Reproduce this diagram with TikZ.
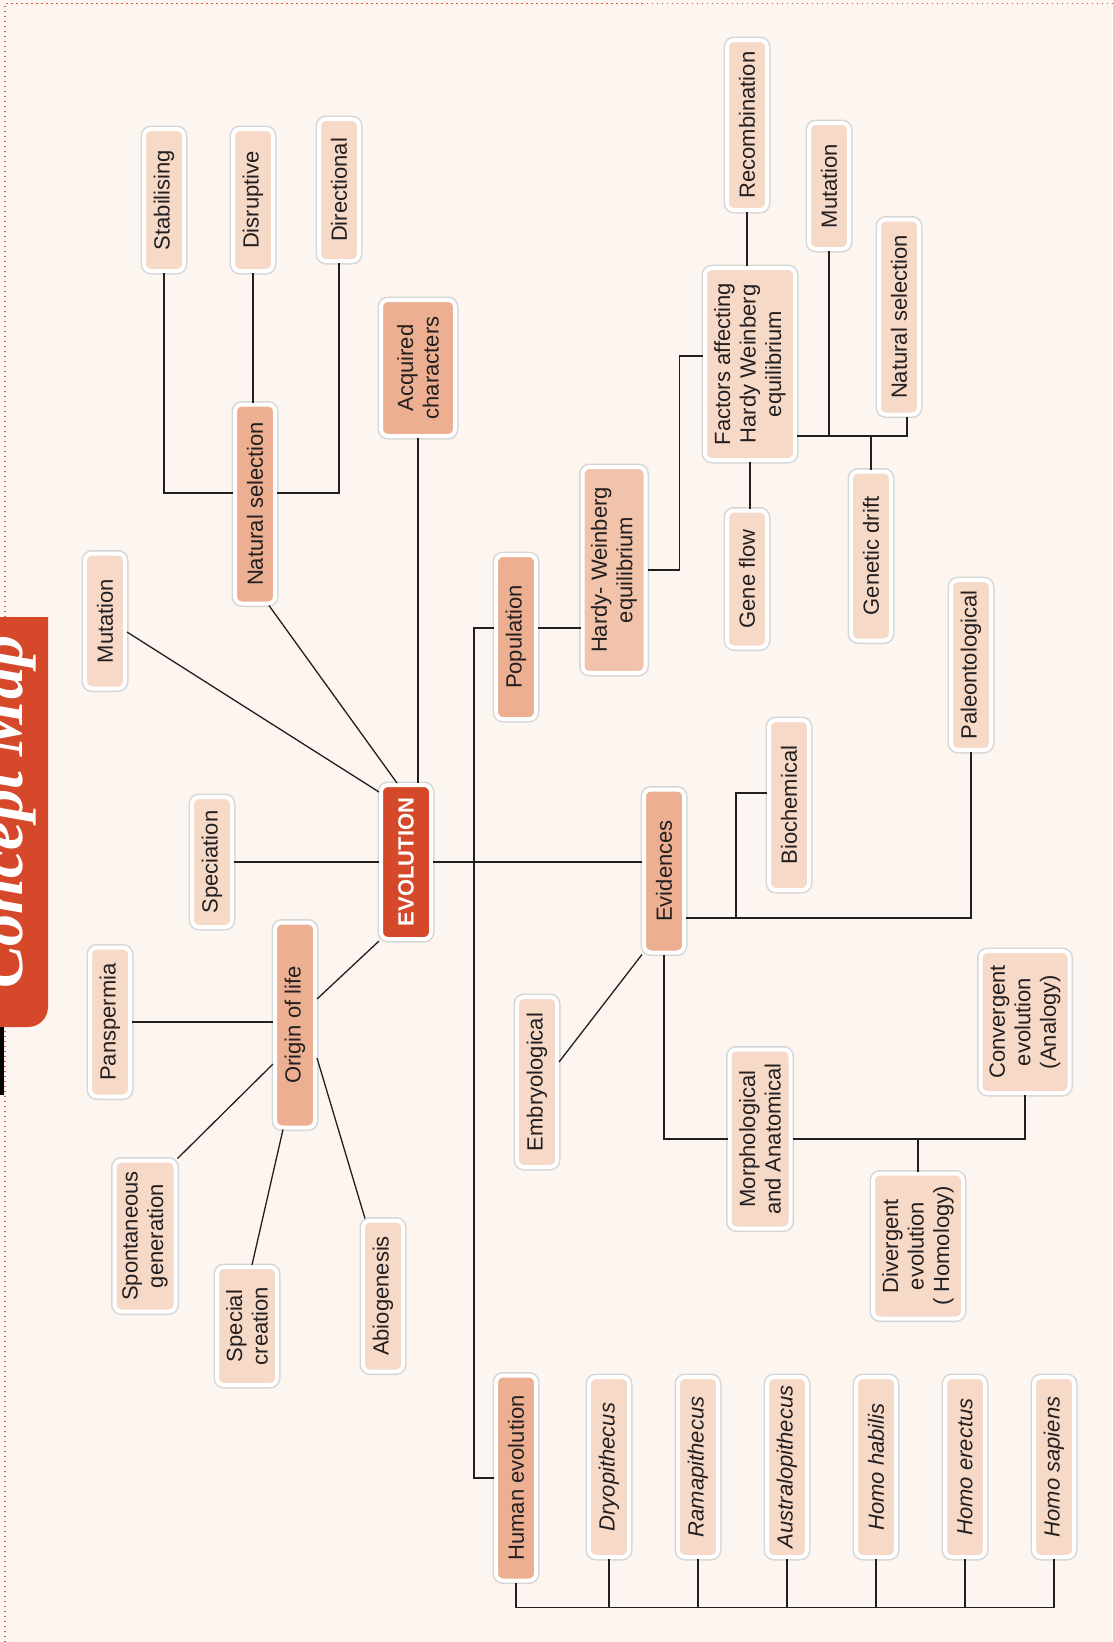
\documentclass[tikz,border=0pt]{standalone}
\usepackage{fontspec}
\setmainfont{Liberation Sans}
\newfontfamily\bannerfont{Liberation Serif}
\usetikzlibrary{positioning}
\definecolor{paper}{HTML}{FCF5F0}
\definecolor{leaf}{HTML}{F7D9C8}
\definecolor{branch}{HTML}{ECAF91}
\definecolor{hwfill}{HTML}{F1C3AB}
\definecolor{root}{HTML}{D5492A}
\definecolor{rim}{HTML}{D6D6D6}
\definecolor{ink}{HTML}{231F20}
\definecolor{dots}{HTML}{E8553A}

\begin{document}
\begin{tikzpicture}[x=1pt, y=-1pt,
    card/.style={rotate=90, rounded corners=7pt, align=center, inner sep=0pt,
        text=ink, font=\fontsize{22}{25.5}\selectfont,
        draw=white, line width=4pt, preaction={draw=rim, line width=7pt},
        minimum height=40}]
    \useasboundingbox[fill=paper] (0,0) rectangle (1112,1642);
    \draw[dots, line width=1.3pt, dash pattern=on 1.2pt off 3.8pt] (5,1642) -- (5,3.5) -- (1112,3.5);
    \fill[root] (-30,617) -- (48,617) [rounded corners=20pt] -- (48,1027) -- (-30,1027) -- cycle;
    \fill[black] (0,1027) rectangle (4,1095);
    \node[rotate=90, anchor=base, text=white, font=\bannerfont\bfseries\itshape\fontsize{64}{64}\selectfont] (0) at (22,812) {Concept Map};

    \node[card, fill=root, text=white, font=\fontsize{22}{25.5}\selectfont\bfseries, minimum width=154, minimum height=50] (1) at (406,862) {EVOLUTION};

    \begin{scope}[every node/.style={card, fill=branch}]
        \node[minimum width=199] (2) at (255,504) {Natural selection};
        \node[minimum width=136, minimum height=74] (6) at (418,368) {Acquired\\characters};
        \node[minimum width=205] (9) at (295,1025) {Origin of life};
        \node[minimum width=164] (14) at (516,637) {Population};
        \node[fill=hwfill, minimum width=206, minimum height=63] (15) at (614,570) {Hardy- Weinberg\\equilibrium};
        \node[minimum width=163] (22) at (664,871) {Evidences};
        \node[minimum width=205] (29) at (516,1478) {Human evolution};
    \end{scope}

    \begin{scope}[every node/.style={card, fill=leaf}]
        \node[minimum width=142] (3) at (164,200) {Stabilising};
        \node[minimum width=142] (4) at (253,200) {Disruptive};
        \node[minimum width=142] (5) at (339,190) {Directional};
        \node[minimum width=135] (7) at (105,621) {Mutation};
        \node[minimum width=130] (8) at (212,862) {Speciation};
        \node[minimum width=149] (10) at (110,1022) {Panspermia};
        \node[minimum width=151, minimum height=61] (11) at (145,1236) {Spontaneous\\generation};
        \node[minimum width=118, minimum height=60] (12) at (247,1326) {Special\\creation};
        \node[minimum width=151] (13) at (383,1296) {Abiogenesis};
        \node[minimum width=192, minimum height=90] (16) at (750,364) {Factors affecting\\Hardy Weinberg\\equilibrium};
        \node[minimum width=170] (17) at (747,125) {Recombination};
        \node[minimum width=126] (18) at (829,186) {Mutation};
        \node[minimum width=195] (19) at (899,317) {Natural selection};
        \node[minimum width=137] (20) at (747,579) {Gene flow};
        \node[minimum width=169] (21) at (871,556) {Genetic drift};
        \node[minimum width=170] (23) at (789,805) {Biochemical};
        \node[minimum width=170] (24) at (971,665) {Paleontological};
        \node[minimum width=170] (25) at (537,1082) {Embryological};
        \node[minimum width=179, minimum height=61] (26) at (760,1139) {Morphological\\and Anatomical};
        \node[minimum width=142, minimum height=89] (27) at (1025,1022) {Convergent\\evolution\\(Analogy)};
        \node[minimum width=145, minimum height=90] (28) at (918,1246) {Divergent\\evolution\\( Homology)};
        \foreach \n/\x/\t in {30/609/Dryopithecus, 31/698/Ramapithecus, 32/787/Australopithecus,
                              33/876/Homo habilis, 34/965/Homo erectus, 35/1054/Homo sapiens}
            \node[minimum width=180] (\n) at (\x,1467) {\itshape \t};
    \end{scope}

    \begin{scope}[draw=ink, line width=1.3pt]
        \draw (3.west) |- ([yshift=11]2.north);
        \draw (4.west) -- (4.west |- 2.east);
        \draw (5.west) |- ([yshift=11]2.south);
        \draw (6.west) -- (6.west |- 1.east);
        \draw ([yshift=-11]7.south) -- ([yshift=-9]1.north east);
        \draw ([xshift=-8]2.south west) -- ([xshift=-9]1.east);
        \draw (8) -- (1);
        \draw (1.north west) -- ([yshift=26]9.south);
        \draw (10.south) -- (10.south -| 9.north);
        \draw (11.south east) -- ([yshift=-39]9.north);
        \draw ([xshift=5]12.east) -- ([xshift=-12]9.west);
        \draw ([xshift=-18]13.east) -- ([yshift=-33]9.south);
        \draw (1.south) -- (1.south -| 22.north);
        \draw ([yshift=9]14.north) -- ++(-20,0) |- (29.north);
        \draw ([yshift=9]14.south) -- ([yshift=9]14.south -| 15.north);
        \draw (15.south) -- ++(32,0) |- ([yshift=8]16.north);
        \draw (17.west) -- (17.west |- 16.east);
        \draw (16.west) -- (16.west |- 20.east);
        \coordinate (fbus) at ([yshift=-72]16.south);
        \draw (fbus) -| ([xshift=8]19.west);
        \draw (18.west) -- (18.west |- fbus);
        \draw (21.east) -- (21.east |- fbus);
        \coordinate (ebus) at ([yshift=-47]22.south);
        \draw (ebus) -| (24.west);
        \draw ([xshift=50]ebus) |- ([yshift=12]23.north);
        \draw ([yshift=20]25.south) -- (22.north west);
        \draw (22.west) |- (26.north);
        \draw (26.south) -| (27.west);
        \draw (28.east) -- (28.east |- 26.south);
        \coordinate (hbus) at ([yshift=-25]29.west);
        \draw (29.west) -- (hbus) -| (35.west);
        \foreach \n in {30,...,34}
            \draw (\n.west) -- (\n.west |- hbus);
    \end{scope}
\end{tikzpicture}
\end{document}
